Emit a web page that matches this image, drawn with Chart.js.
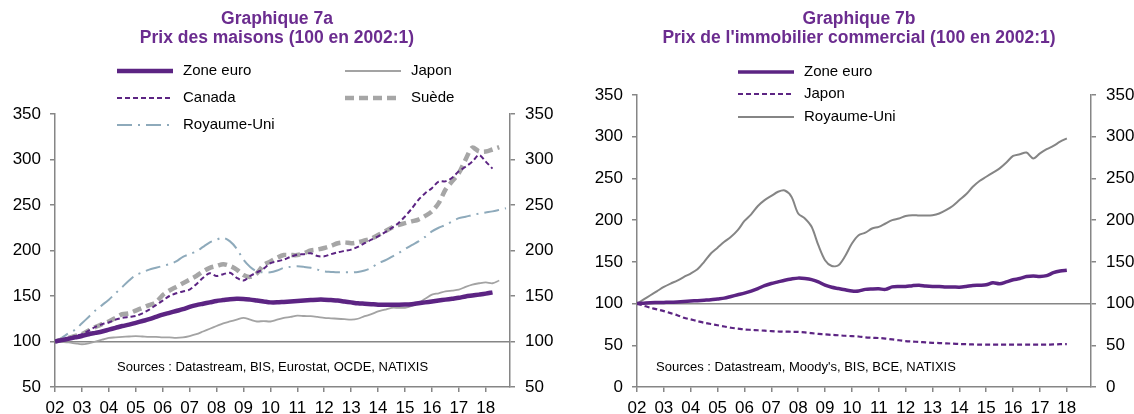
<!DOCTYPE html>
<html>
<head>
<meta charset="utf-8">
<script src="https://cdn.jsdelivr.net/npm/chart.js@4.4.1/dist/chart.umd.min.js"></script>
<style>
  html, body { margin: 0; padding: 0; background: #fff; overflow: hidden; }
  #wrap { position: relative; width: 1134px; height: 414px; }
  canvas { position: absolute; top: 0; }
  #chartA { left: 0; }
  #chartB { left: 567px; }
</style>
</head>
<body>
<div id="wrap">
  <canvas id="chartA" width="567" height="414"></canvas>
  <canvas id="chartB" width="567" height="414"></canvas>
</div>
<script>
// quarterly observations, 2002:1 onwards
const quarters = Array.from({ length: 68 }, (_, i) => 2002 + i / 4);
const yearLabels = ['02', '03', '04', '05', '06', '07', '08', '09', '10', '11', '12', '13', '14', '15', '16', '17', '18'];

// Graphique 7a - prix des maisons
const zoneEuroA = [100, 101.5, 103, 104.5, 106, 108, 109.5, 111, 113, 115, 117, 118.5, 120.5, 122.5, 124.5, 127,
  129.5, 131.5, 133.5, 135.5, 138, 140, 141.5, 143, 144.5, 145.5, 146.5, 147, 146.8, 146, 145, 144,
  143, 143, 143.5, 144, 144.5, 145, 145.5, 146, 146, 145.5, 145, 144, 143, 142, 141.5, 141,
  140.5, 140.5, 140.5, 140.5, 140.6, 141, 142, 143, 144, 145, 146, 147, 148, 149.5, 150.5, 151.5,
  152.6, 154, null, null];
const japonA = [100, 99.5, 99, 98, 97, 98, 100, 102, 104, 104.5, 105, 105.5, 106, 105.5, 105, 105,
  104.5, 104.5, 104, 104.5, 106, 108, 111, 114, 117, 120, 122, 124, 126, 124, 122, 122.5,
  122, 124, 126, 127, 128.5, 128, 127.8, 127, 126, 125.5, 125, 124.5, 124, 125, 127.8, 130,
  133, 135, 137, 137, 137, 139, 142.4, 147, 151.5, 153, 155, 156, 157, 160, 162.5, 164,
  165, 164, 167, null];
const canadaA = [100, 102, 104, 106, 108, 112, 116, 119, 121, 124, 126, 127, 128, 131, 135, 140,
  145, 150, 153, 155, 157, 163, 170, 175, 172, 174, 175.5, 170, 167, 172, 176, 180,
  186, 188, 190, 193, 195.4, 196, 197, 194, 193.6, 196, 198, 199.5, 201, 204, 208, 212,
  215.5, 220, 224.6, 230, 237.4, 246, 255.7, 263, 268.5, 275.8, 276, 280, 287, 292, 297.7, 305,
  297.7, 290, null, null];
const suedeA = [100, 102, 104, 106, 108, 112, 116, 119, 122, 126, 130, 131, 134, 137, 140, 143,
  151, 156, 160, 164, 168, 172, 177, 181, 183, 185, 183, 179, 173, 171, 175, 184,
  188, 192, 195, 195, 195, 197, 200, 201, 202.7, 205, 208, 209, 208, 209, 211, 213,
  217, 221, 225, 228, 230, 232, 234, 238, 243, 252, 266.7, 276, 285, 300, 313, 309,
  308.7, 311, 313.5, null];
const royaumeUniA = [100, 104, 109, 113, 120, 127, 134, 140, 146, 153, 160, 167, 173, 176, 179, 181,
  183, 185, 188, 193, 196, 199, 204, 209, 212, 214, 210, 202, 190, 182, 177, 176,
  176, 178, 181, 182, 182.6, 182, 181, 179, 177, 176.5, 176, 176, 176, 176.5, 178, 181,
  186, 189, 193, 197, 201.6, 206, 210, 215, 221, 225, 228, 232, 235.6, 237, 239, 240.5,
  241.8, 243, 244.7, 246.5];

// Graphique 7b - immobilier commercial
const zoneEuroB = [100, 100.5, 101, 101.2, 101.4, 101.6, 102, 102.5, 103, 103.5, 104, 104.5, 105.5, 106.5, 108.5, 110.5,
  112.5, 115, 118, 121.5, 124, 126, 128, 129.5, 130.5, 130, 128.7, 126, 122, 119.5, 118, 116.5,
  115, 115, 117, 117.5, 117.7, 117, 120, 120.5, 120.5, 121.5, 122, 121, 120.5, 120.5, 120, 120,
  119.7, 120.5, 121.7, 122, 122.5, 125, 123.7, 126, 128.5, 130, 132.5, 133, 132.5, 133.5, 137, 139,
  140];
const japonB = [100, 97.5, 95, 93, 91, 88.5, 86, 83, 81, 79, 77, 75.5, 74, 72.5, 71, 70,
  69, 68.5, 68, 67.5, 67, 66.5, 66.5, 66.2, 66, 65.5, 64.5, 63.7, 63, 62.5, 62, 61.4,
  61, 60.5, 59.5, 59, 58.7, 58, 57, 56, 55, 54.5, 54, 53.5, 53, 52.7, 52.3, 52,
  51.5, 51.3, 51, 50.8, 50.7, 50.7, 50.7, 50.7, 50.7, 50.7, 50.7, 50.7, 50.7, 50.8, 51, 51.3,
  51.5];
const royaumeUniB = [100, 105, 110, 115, 120, 124, 127.5, 132, 136, 141, 150, 160, 167, 174, 180, 188,
  199, 207, 217, 224, 229, 234, 235.5, 228, 208, 202, 192, 170, 152, 145, 146, 157,
  172, 182, 185, 190, 192, 196, 200, 202, 205, 206, 205.5, 205.5, 206, 208, 212, 217,
  224, 231, 240, 247, 252, 257, 262, 269, 277, 279, 281, 274, 280, 285, 289, 294,
  298];

const FONT = "'Liberation Sans', Arial, sans-serif";
const PURPLE = '#5c2483';
const TITLE_PURPLE = '#6b2c8f';
const AXIS_GRAY = '#868686';

function points(values) {
  return values.map((y, i) => ({ x: quarters[i], y }));
}

const decorPlugin = {
  id: 'decor',
  afterDraw(chart, args, opts) {
    const ctx = chart.ctx;
    ctx.save();
    ctx.textBaseline = 'middle';
    ctx.textAlign = 'center';
    ctx.fillStyle = TITLE_PURPLE;
    ctx.font = `bold 17.5px ${FONT}`;
    opts.title.forEach((line, i) => ctx.fillText(line, opts.titleX, opts.titleY[i]));

    ctx.textAlign = 'left';
    ctx.font = `15px ${FONT}`;
    chart.data.datasets.forEach((ds, i) => {
      const [x, y] = opts.slots[i];
      ctx.strokeStyle = ds.borderColor;
      ctx.lineWidth = ds.borderWidth;
      ctx.setLineDash(ds.borderDash || []);
      ctx.beginPath();
      ctx.moveTo(x, y);
      ctx.lineTo(x + 56, y);
      ctx.stroke();
      ctx.setLineDash([]);
      ctx.fillStyle = '#000';
      ctx.fillText(ds.label, x + 66, y);
    });

    ctx.font = `13px ${FONT}`;
    ctx.fillText(opts.note, opts.noteX, opts.noteY);
    ctx.restore();
  }
};

function makeScales(yMin, leftWidth, rightWidth) {
  const tickFont = { size: 17, family: FONT };
  const yAxis = (position, width, onChart) => ({
    position,
    min: yMin,
    max: 350,
    border: { color: AXIS_GRAY, width: 1.5 },
    grid: {
      drawOnChartArea: onChart,
      color: (c) => (c.tick && c.tick.value === 100 ? AXIS_GRAY : 'rgba(0,0,0,0)'),
      lineWidth: 1.5,
      tickColor: AXIS_GRAY,
      tickLength: 5
    },
    ticks: { stepSize: 50, padding: position === 'left' ? 9 : 10, color: '#000', font: tickFont },
    afterFit: (s) => { s.width = width; }
  });
  return {
    x: {
      type: 'linear',
      min: 2002,
      max: 2018.9,
      border: { color: AXIS_GRAY, width: 1.5 },
      grid: { drawOnChartArea: false, tickLength: 5, color: AXIS_GRAY, tickColor: AXIS_GRAY, lineWidth: 1.5 },
      ticks: {
        stepSize: 1,
        includeBounds: false,
        autoSkip: false,
        maxRotation: 0,
        padding: 6,
        color: '#000',
        font: tickFont,
        callback: (v) => yearLabels[Math.round(v) - 2002]
      },
      afterFit: (s) => { s.height = 27; }
    },
    y: yAxis('left', leftWidth, true),
    y2: yAxis('right', rightWidth, false)
  };
}

function lineSet(label, values, color, width, dash) {
  return {
    label,
    data: points(values),
    borderColor: color,
    borderWidth: width,
    borderDash: dash,
    pointRadius: 0,
    tension: 0.3,
    fill: false,
    yAxisID: 'y'
  };
}

const baseOptions = {
  responsive: false,
  animation: false,
  events: [],
  plugins: { legend: { display: false }, tooltip: { enabled: false } }
};

new Chart(document.getElementById('chartA'), {
  type: 'line',
  data: {
    datasets: [
      lineSet('Zone euro', zoneEuroA, PURPLE, 4.5, []),
      lineSet('Japon', japonA, '#a3a3a3', 1.8, []),
      lineSet('Canada', canadaA, PURPLE, 2, [5, 3]),
      lineSet('Suède', suedeA, '#a6a6a6', 4.5, [9, 5]),
      lineSet('Royaume-Uni', royaumeUniA, '#8eaabb', 2, [15, 6, 2, 6])
    ]
  },
  options: {
    ...baseOptions,
    layout: { padding: { top: 114, left: 0, right: 0, bottom: 0 } },
    scales: makeScales(50, 55, 57),
    plugins: {
      ...baseOptions.plugins,
      decor: {
        title: ['Graphique 7a', 'Prix des maisons (100 en 2002:1)'],
        titleX: 277,
        titleY: [19, 38],
        slots: [[117, 71], [345, 71], [117, 98], [345, 98], [117, 125]],
        note: 'Sources : Datastream, BIS, Eurostat, OCDE, NATIXIS',
        noteX: 117,
        noteY: 367
      }
    }
  },
  plugins: [decorPlugin]
});

new Chart(document.getElementById('chartB'), {
  type: 'line',
  data: {
    datasets: [
      lineSet('Zone euro', zoneEuroB, PURPLE, 3.5, []),
      lineSet('Japon', japonB, PURPLE, 2.2, [5, 3]),
      lineSet('Royaume-Uni', royaumeUniB, '#858585', 2, [])
    ]
  },
  options: {
    ...baseOptions,
    layout: { padding: { top: 95, left: 0, right: 0, bottom: 0 } },
    scales: makeScales(0, 70, 43),
    plugins: {
      ...baseOptions.plugins,
      decor: {
        title: ['Graphique 7b', "Prix de l'immobilier commercial (100 en 2002:1)"],
        titleX: 292,
        titleY: [19, 38],
        slots: [[171, 72], [171, 94], [171, 117]],
        note: "Sources : Datastream, Moody's, BIS, BCE, NATIXIS",
        noteX: 89,
        noteY: 367
      }
    }
  },
  plugins: [decorPlugin]
});
</script>
</body>
</html>
